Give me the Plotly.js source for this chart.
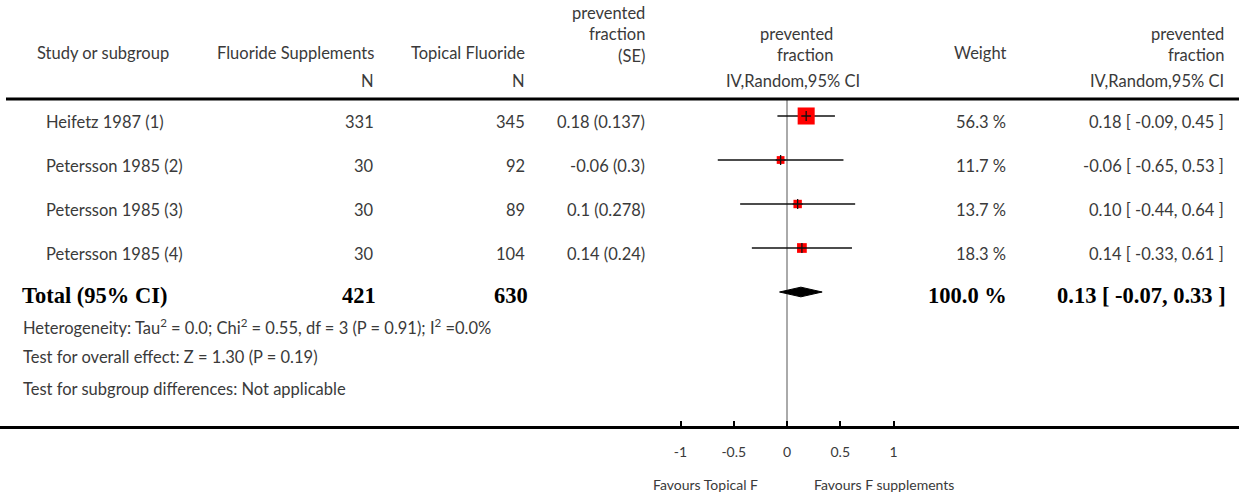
<!DOCTYPE html>
<html>
<head>
<meta charset="utf-8">
<script src="https://cdn.plot.ly/plotly-3.0.1.min.js"></script>
<style>html,body{margin:0;padding:0;background:#fff;}#chart{width:1239px;height:495px;}</style>
</head>
<body>
<div id="chart"></div>
<script>
// ---- data ----
var studies = ['Heifetz 1987 (1)', 'Petersson 1985 (2)', 'Petersson 1985 (3)', 'Petersson 1985 (4)'];
var nSupplements = [331, 30, 30, 30];
var nTopical = [345, 92, 89, 104];
var estimates = [0.18, -0.06, 0.1, 0.14];
var standardErrors = [0.137, 0.3, 0.278, 0.24];
var ciLow = [-0.09, -0.65, -0.44, -0.33];
var ciHigh = [0.45, 0.53, 0.64, 0.61];
var weights = [56.3, 11.7, 13.7, 18.3];
var totalN = [421, 630];
var totalEstimate = [0.13];
var totalLow = [-0.07];
var totalHigh = [0.33];
var totalWeight = [100.0];
var tickValues = [-1, -0.5, 0, 0.5, 1];
var tickLabels = ['-1', '-0.5', '0', '0.5', '1'];

// ---- layout helpers ----
var W = 1239, H = 495, PLOT_H = 426;
function px(p) { return p / W; }
function py(p) { return 1 - p / PLOT_H; }
var rowIdx = studies.map(function (_, i) { return i; });
var totalRow = studies.length;

var FONT = 'Lato, "Open Sans", sans-serif';
var FS = 16.5;
var TXT = '#3a3a3a';
var SERIF = '"Liberation Serif", "DejaVu Serif", serif';

var traces = [];
// squares with CI lines as error bars
traces.push({
  type: 'scatter', mode: 'markers', x: estimates, y: rowIdx, opacity: 1,
  marker: { size: weights.map(function (w) { return 2.27 * Math.sqrt(w); }), symbol: 'square', color: '#ff0000', opacity: 1, line: { width: 0 } },
  error_x: {
    type: 'data', symmetric: false,
    array: estimates.map(function (e, i) { return ciHigh[i] - e; }),
    arrayminus: estimates.map(function (e, i) { return e - ciLow[i]; }),
    color: '#111111', thickness: 1.5, width: 0
  },
  hoverinfo: 'skip', showlegend: false
});
// small cross at point estimate
traces.push({
  type: 'scatter', mode: 'markers', x: estimates, y: rowIdx,
  marker: { symbol: 'cross-thin', size: 7, opacity: 1, line: { width: 1.3, color: '#111111' } },
  hoverinfo: 'skip', showlegend: false
});
// pooled diamond
var dh = 0.11;
traces.push({
  type: 'scatter', mode: 'lines',
  x: [totalLow[0], totalEstimate[0], totalHigh[0], totalEstimate[0], totalLow[0]],
  y: [totalRow, totalRow - dh, totalRow, totalRow + dh, totalRow],
  fill: 'toself', fillcolor: '#000000', line: { color: '#000000', width: 1 },
  hoverinfo: 'skip', showlegend: false
});

var ann = [];
function A(text, xp, yp, anchor, opts) {
  var a = {
    text: text, x: px(xp), y: py(yp), xref: 'paper', yref: 'paper',
    xanchor: anchor, yanchor: 'middle', showarrow: false, align: anchor === 'left' ? 'left' : 'right',
    font: { family: FONT, size: FS, color: TXT }
  };
  if (opts) { for (var k in opts) a[k] = opts[k]; }
  return a;
}
// headers
ann.push(A('Study or subgroup', 35, 53, 'left'));
ann.push(A('Fluoride Supplements', 376, 53, 'right'));
ann.push(A('Topical Fluoride', 527, 53, 'right'));
ann.push(A('prevented<br>fraction<br>(SE)', 647, 35, 'right'));
ann.push(A('prevented<br>fraction', 835, 44.5, 'right'));
ann.push(A('Weight', 1008, 53, 'right'));
ann.push(A('prevented<br>fraction', 1226, 44.5, 'right'));
ann.push(A('N', 376, 81, 'right'));
ann.push(A('N', 527, 81, 'right'));
ann.push(A('IV,Random,95% CI', 862, 81, 'right'));
ann.push(A('IV,Random,95% CI', 1226, 81, 'right'));

// study rows
function R(text, xp, row, anchor) {
  return {
    text: text, x: px(xp), y: row, xref: 'paper', yref: 'y', yshift: -6,
    xanchor: anchor, yanchor: 'middle', showarrow: false,
    font: { family: FONT, size: FS, color: TXT }
  };
}
studies.forEach(function (s, i) {
  ann.push(R(s, 44, i, 'left'));
  ann.push(R(String(nSupplements[i]), 376, i, 'right'));
  ann.push(R(String(nTopical[i]), 527, i, 'right'));
  ann.push(R(String(estimates[i]) + ' (' + String(standardErrors[i]) + ')', 647, i, 'right'));
  ann.push(R(weights[i].toFixed(1) + ' %', 1008, i, 'right'));
  ann.push(R(estimates[i].toFixed(2) + ' [ ' + ciLow[i].toFixed(2) + ', ' + ciHigh[i].toFixed(2) + ' ]', 1226, i, 'right'));
});

// total row
function T(text, xp, anchor) {
  return {
    text: '<b>' + text + '</b>', x: px(xp), y: totalRow, xref: 'paper', yref: 'y', yshift: -3,
    xanchor: anchor, yanchor: 'middle', showarrow: false,
    font: { family: SERIF, size: 22.5, color: '#000000' }
  };
}
ann.push(T('Total (95% CI)', 20, 'left'));
ann.push(T(String(totalN[0]), 378, 'right'));
ann.push(T(String(totalN[1]), 530, 'right'));
ann.push(T(totalWeight[0].toFixed(1) + ' %', 1009, 'right'));
ann.push(T(totalEstimate[0].toFixed(2) + ' [ ' + totalLow[0].toFixed(2) + ', ' + totalHigh[0].toFixed(2) + ' ]', 1228, 'right'));

// footer statistics
ann.push(A('Heterogeneity: Tau<sup>2</sup> = 0.0; Chi<sup>2</sup> = 0.55, df = 3 (P = 0.91); I<sup>2</sup> =0.0%', 21, 327, 'left'));
ann.push(A('Test for overall effect: Z = 1.30 (P = 0.19)', 21, 357, 'left'));
ann.push(A('Test for subgroup differences: Not applicable', 21, 389, 'left'));

// favours labels
ann.push({ text: 'Favours Topical F', x: -0.77, y: 0, xref: 'x', yref: 'paper', yshift: -58,
  xanchor: 'center', yanchor: 'middle', showarrow: false, font: { family: FONT, size: 14, color: TXT } });
ann.push({ text: 'Favours F supplements', x: 0.91, y: 0, xref: 'x', yref: 'paper', yshift: -58,
  xanchor: 'center', yanchor: 'middle', showarrow: false, font: { family: FONT, size: 14, color: TXT } });

var shapes = [
  { type: 'line', xref: 'paper', yref: 'paper', x0: px(6), x1: 1, y0: py(99), y1: py(99), line: { color: '#000', width: 3 } },
  { type: 'line', xref: 'x', yref: 'paper', x0: 0, x1: 0, y0: py(100), y1: 0, line: { color: '#aaaaaa', width: 2 }, layer: 'below' }
];

var x0pix = 787, unit = 106.5;
var layout = {
  width: W, height: H,
  margin: { l: 0, r: 0, t: 0, b: H - PLOT_H, pad: 0 },
  paper_bgcolor: '#fff', plot_bgcolor: '#fff',
  showlegend: false,
  xaxis: {
    range: [-x0pix / unit, (W - x0pix) / unit],
    tickvals: tickValues, ticktext: tickLabels,
    ticks: 'inside', ticklen: 5, tickwidth: 2, tickcolor: '#000',
    showline: true, linewidth: 3, linecolor: '#000',
    showgrid: false, zeroline: false, fixedrange: true,
    ticklabelstandoff: 11,
    tickfont: { family: FONT, size: 14, color: TXT }
  },
  yaxis: {
    range: [(PLOT_H - 116) / 44, -116 / 44],
    visible: false, showgrid: false, zeroline: false, fixedrange: true
  },
  annotations: ann,
  shapes: shapes
};

Plotly.newPlot('chart', traces, layout, { staticPlot: true, displayModeBar: false });
</script>
</body>
</html>
